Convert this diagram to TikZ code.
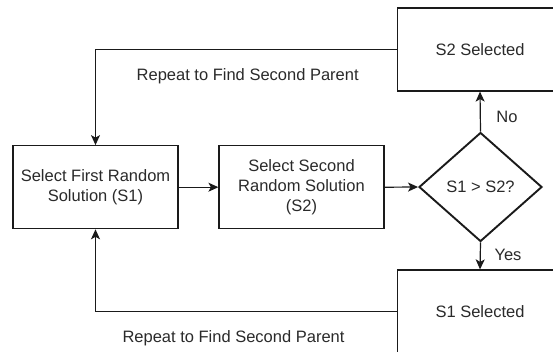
\documentclass[tikz,border=0pt]{standalone}
\usepackage{fontspec}
\setmainfont{Liberation Sans}
\usetikzlibrary{shapes.geometric,arrows.meta}
\definecolor{ink}{HTML}{1A1A1A}
\definecolor{label}{HTML}{2A2A2A}
\tikzset{
  every node/.style={font=\fontsize{16.5}{20}\selectfont, text=label},
  procbox/.style={draw=ink, line width=1.2pt, rectangle, align=center,
                  minimum width=165pt, minimum height=83pt, inner sep=2pt},
  decision/.style={draw=ink, line width=1.9pt, diamond, align=center,
                   minimum width=123pt, minimum height=109pt, inner sep=0pt},
  link/.style={draw=ink, line width=1.2pt,
               -{Stealth[length=10pt, width=9pt, inset=2.5pt]}},
  tag/.style={inner sep=0pt}
}
\begin{document}
\begin{tikzpicture}[x=1pt, y=-1pt]
  \clip (0,0) rectangle (553,351);

  % main row
  \node[procbox] (first)  at (95.5,187.2) {Select First Random\\Solution (S1)};
  \node[procbox] (second) at (301.5,187.2) {Select Second\\Random Solution\\(S2)};
  \node[decision] (dec)   at (480.5,187) {S1 > S2?};

  % outcomes
  \node[procbox] (s2sel) at (480,49.5)  {S2 Selected};
  \node[procbox] (s1sel) at (480,311.5) {S1 Selected};

  % connectors
  \draw[link] (first.east) -- (second.west);
  \draw[link] (second.east) -- (dec.west);
  \draw[link] (dec.north) -- (s2sel.south);
  \draw[link] (dec.south) -- (s1sel.north);
  \draw[link] (s2sel.west) -| (first.north);
  \draw[link] (s1sel.west) -| (first.south);

  % labels
  \node[tag] (lno)  at (507,117) {No};
  \node[tag] (lyes) at (508,255) {Yes};
  \node[tag] (ltop) at (247.7,76.5) {Repeat to Find Second Parent};
  \node[tag] (lbot) at (233.5,338) {Repeat to Find Second Parent};
\end{tikzpicture}
\end{document}
